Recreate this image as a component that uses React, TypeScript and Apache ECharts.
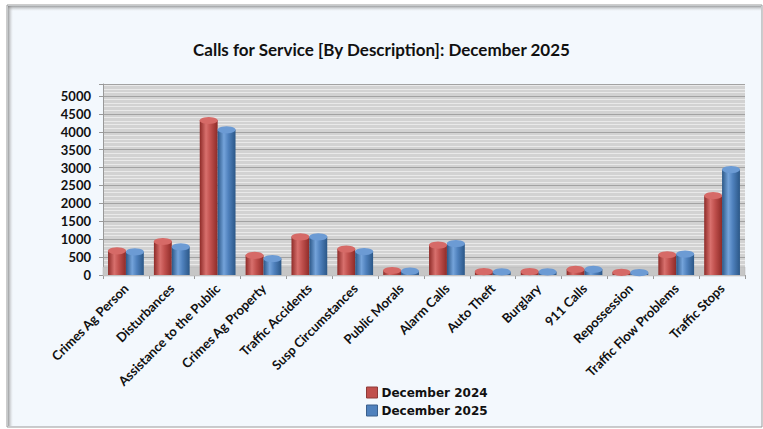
import React, { useEffect, useRef } from "react";
import * as echarts from "echarts";

const categories = [
  "Crimes Ag Person",
  "Disturbances",
  "Assistance to the Public",
  "Crimes Ag Property",
  "Traffic Accidents",
  "Susp Circumstances",
  "Public Morals",
  "Alarm Calls",
  "Auto Theft",
  "Burglary",
  "911 Calls",
  "Repossession",
  "Traffic Flow Problems",
  "Traffic Stops",
];
const dec2024 = [680, 940, 4320, 550, 1070, 730, 130, 840, 100, 100, 160, 80, 570, 2220];
const dec2025 = [650, 790, 4060, 460, 1070, 660, 110, 880, 90, 90, 160, 70, 590, 2950];
const seriesNames = ["December 2024", "December 2025"];
const yTickMax = 5000;

const FONT = "Lato, 'Open Sans', sans-serif";

function cyl(edge: string, mid: string, light: string) {
  return new echarts.graphic.LinearGradient(0, 0, 1, 0, [
    { offset: 0, color: edge },
    { offset: 0.35, color: light },
    { offset: 0.6, color: mid },
    { offset: 1, color: edge },
  ]);
}

export default function App() {
  const ref = useRef<HTMLDivElement>(null);
  useEffect(() => {
    document.body.style.margin = "0";
    const chart = echarts.init(ref.current!, null, { renderer: "svg" });
    const redFill = cyl("#8e2b28", "#c0504d", "#d8706d");
    const blueFill = cyl("#2b5787", "#4f81bd", "#74a3da");
    const redTop = "#d66a67";
    const blueTop = "#6c9bd4";
    const common = { barGap: "0%", barCategoryGap: "22%" };
    chart.setOption({
      animation: false,
      backgroundColor: "#ffffff",
      title: {
        text: "Calls for Service [By Description]: December 2025",
        left: "center",
        top: 36,
        textStyle: { fontFamily: FONT, fontSize: 17, fontWeight: "bold", color: "#111" },
      },
      graphic: [
        {
          type: "rect",
          z: -10,
          shape: { x: 7, y: 5, width: 755, height: 422 },
          style: { fill: "#f3f8fd", stroke: "#9a9a9a", lineWidth: 1 },
        },
        {
          type: "rect",
          z: -9,
          shape: { x: 8, y: 6, width: 5, height: 420 },
          style: {
            fill: new echarts.graphic.LinearGradient(0, 0, 1, 0, [
              { offset: 0, color: "rgba(120,120,120,0.7)" },
              { offset: 1, color: "rgba(200,200,200,0)" },
            ]),
          },
        },
        {
          type: "rect",
          z: -9,
          shape: { x: 8, y: 6, width: 753, height: 5 },
          style: {
            fill: new echarts.graphic.LinearGradient(0, 0, 0, 1, [
              { offset: 0, color: "rgba(120,120,120,0.7)" },
              { offset: 1, color: "rgba(200,200,200,0)" },
            ]),
          },
        },
        {
          type: "rect",
          z: 1,
          shape: { x: 103, y: 267, width: 642, height: 9 },
          style: { fill: "#c6c6c6", stroke: "#b0b0b0", lineWidth: 0.5 },
        },
      ],
      legend: {
        orient: "vertical",
        left: 361,
        top: 380,
        icon: "rect",
        itemWidth: 11,
        itemHeight: 11,
        itemGap: 3,
        itemStyle: {},
        textStyle: {
          fontFamily: "'DejaVu Sans', Verdana, sans-serif",
          fontSize: 12,
          fontWeight: "bold",
          color: "#111",
          lineHeight: 15,
          padding: [0, 0, 0, -1],
        },
        data: [
          { name: seriesNames[0], itemStyle: { color: "#c0504d", borderColor: "#8e3a38", borderWidth: 1 } },
          { name: seriesNames[1], itemStyle: { color: "#4f81bd", borderColor: "#3a5f8c", borderWidth: 1 } },
        ],
      },
      grid: {
        left: 103,
        right: 18,
        top: 84,
        bottom: 154,
        show: true,
        backgroundColor: "#d2d2d2",
        borderWidth: 0,
      },
      xAxis: {
        type: "category",
        data: categories,
        axisLine: { lineStyle: { color: "#999" } },
        axisTick: { show: true, length: 4, lineStyle: { color: "#999" } },
        axisLabel: {
          rotate: 45,
          interval: 0,
          margin: 11,
          fontFamily: FONT,
          fontSize: 13,
          fontWeight: "bold",
          color: "#111",
        },
      },
      yAxis: {
        type: "value",
        min: 0,
        max: 5335,
        interval: 500,
        axisLine: { show: true, lineStyle: { color: "#999" } },
        axisTick: { show: true, length: 4, lineStyle: { color: "#999" } },
        axisLabel: {
          fontFamily: FONT,
          fontSize: 13,
          fontWeight: "bold",
          color: "#111",
          margin: 12,
          formatter: (v: number) => (v > yTickMax ? "" : String(v)),
        },
        splitLine: { show: true, lineStyle: { color: "#a2a2a2", width: 1 } },
        minorTick: { show: false, splitNumber: 5 },
        minorSplitLine: { show: true, lineStyle: { color: "#e9e9e9", width: 1.2 } },
      },
      series: [
        {
          name: seriesNames[0],
          type: "bar",
          data: dec2024,
          ...common,
          z: 3,
          itemStyle: { color: redFill },
        },
        {
          name: seriesNames[1],
          type: "bar",
          data: dec2025,
          ...common,
          z: 3,
          itemStyle: { color: blueFill },
        },
        {
          name: seriesNames[0],
          type: "pictorialBar",
          data: dec2024,
          ...common,
          symbol: "circle",
          symbolSize: ["100%", 7],
          symbolPosition: "end",
          symbolOffset: [0, "-50%"],
          z: 4,
          itemStyle: { color: redTop, borderColor: "#a8403d", borderWidth: 0.5 },
        },
        {
          name: seriesNames[1],
          type: "pictorialBar",
          data: dec2025,
          ...common,
          symbol: "circle",
          symbolSize: ["100%", 7],
          symbolPosition: "end",
          symbolOffset: [0, "-50%"],
          z: 4,
          itemStyle: { color: blueTop, borderColor: "#3d6aa0", borderWidth: 0.5 },
        },
      ],
    });
    return () => chart.dispose();
  }, []);
  return <div ref={ref} style={{ width: 763, height: 429 }} />;
}
